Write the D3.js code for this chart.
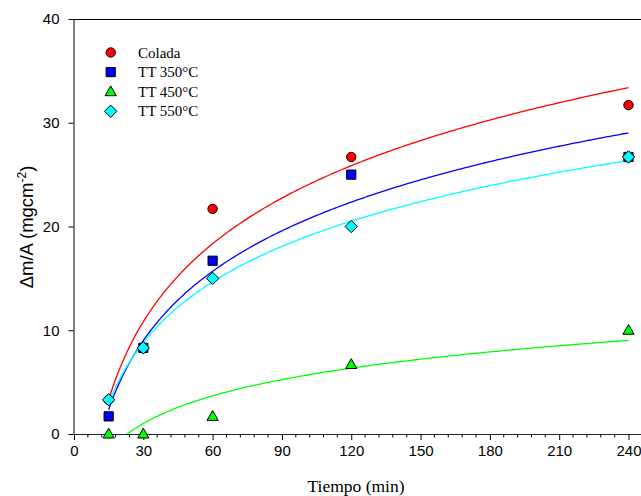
<!DOCTYPE html>
<html><head><meta charset="utf-8">
<script src="https://cdn.jsdelivr.net/npm/d3@7"></script>
<style>html,body{margin:0;padding:0;background:#fff;overflow:hidden}</style>
</head><body>
<script>
const times = [15, 30, 60, 120, 240];
const seriesNames = ["Colada", "TT 350°C", "TT 450°C", "TT 550°C"];
const colada = [3.3, 8.3, 21.7, 26.7, 31.7];
const tt350 = [1.7, 8.3, 16.7, 25.0, 26.7];
const tt450 = [0, 0, 1.7, 6.7, 10.0];
const tt550 = [3.3, 8.3, 15.0, 20.0, 26.7];
const xTicks = [0, 30, 60, 90, 120, 150, 180, 210, 240];
const yTicks = [0, 10, 20, 30, 40];

const colors = ["#ff0000", "#0000ff", "#00ff00", "#00ffff"];
const shapes = ["circle", "square", "triangle", "diamond"];
const allSeries = [colada, tt350, tt450, tt550];

const W = 641, H = 496;
const svg = d3.select("body").append("svg").attr("width", W).attr("height", H);
const x = d3.scaleLinear().domain([0, 250]).range([74, 651.6]);
const y = d3.scaleLinear().domain([0, 40]).range([434, 19]);

function shapePath(s) {
  if (s === "circle") return "M4.7,0A4.7,4.7 0 1,1 -4.7,0A4.7,4.7 0 1,1 4.7,0Z";
  if (s === "square") return "M-4.6,-4.6H4.6V4.6H-4.6Z";
  if (s === "triangle") return "M0,-5.8L5.6,4L-5.6,4Z";
  return "M0,-6.2L6.2,0L0,6.2L-6.2,0Z";
}

// clip
svg.append("clipPath").attr("id","clip").append("rect")
  .attr("x", 74).attr("y", 19).attr("width", 600).attr("height", 415);

// frame top line
svg.append("line").attr("x1", 73.5).attr("x2", 660).attr("y1", 19.5).attr("y2", 19.5)
  .attr("stroke", "#000").attr("stroke-width", 1.2);

// axes
const xAxis = d3.axisBottom(x).tickValues(xTicks).tickSize(6).tickSizeOuter(0).tickPadding(5);
const gx = svg.append("g").attr("transform", "translate(0,434)").call(xAxis);
const minor = d3.range(0, 250, 6).filter(v => v % 30 !== 0);
gx.selectAll(".minor").data(minor).enter().append("line").attr("class","minor")
  .attr("x1", d => x(d)).attr("x2", d => x(d)).attr("y1", 0).attr("y2", 3.5).attr("stroke", "#000");
gx.select(".domain").attr("stroke", "#222");
gx.selectAll("text").attr("font-family", "Liberation Sans, Arial, sans-serif").attr("font-size", "15px").attr("fill","#000");

const yAxis = d3.axisLeft(y).tickValues(yTicks).tickSize(5).tickSizeOuter(0).tickPadding(9);
const gy = svg.append("g").attr("transform", "translate(73.5,0)").call(yAxis);
gy.selectAll("text").attr("font-family", "Liberation Sans, Arial, sans-serif").attr("font-size", "15px").attr("fill","#000");
gy.select(".domain").attr("stroke","#000");

// fits (least-squares logarithmic regression of each series)
function logFit(vals) {
  const lx = times.map(Math.log);
  const mx = d3.mean(lx), my = d3.mean(vals);
  let sxy = 0, sxx = 0;
  lx.forEach((v, i) => { sxy += (v - mx) * (vals[i] - my); sxx += (v - mx) * (v - mx); });
  const b = sxy / sxx, a = my - b * mx;
  return t => a + b * Math.log(t);
}
const tGrid = d3.range(15, 240.01, 1);
const line = d3.line().x(d => x(d[0])).y(d => y(d[1]));
const curves = svg.append("g").attr("clip-path", "url(#clip)");
allSeries.forEach((vals, i) => {
  const f = logFit(vals);
  curves.append("path").attr("d", line(tGrid.map(t => [t, f(t)])))
    .attr("fill", "none").attr("stroke", colors[i]).attr("stroke-width", 1.3);
});

// markers
allSeries.forEach((vals, i) => {
  svg.append("g").selectAll("path").data(vals).enter().append("path")
    .attr("d", shapePath(shapes[i]))
    .attr("transform", (d, j) => `translate(${x(times[j])},${y(d)})`)
    .attr("fill", colors[i]).attr("stroke", "#000").attr("stroke-width", 1);
});

// legend
const leg = svg.append("g");
seriesNames.forEach((n, i) => {
  const ly = 52.5 + i * 19.6;
  leg.append("path").attr("d", shapePath(shapes[i])).attr("transform", `translate(110.7,${ly})`)
    .attr("fill", colors[i]).attr("stroke", "#000").attr("stroke-width", 1);
  leg.append("text").attr("x", 138).attr("y", ly + 5).text(n)
    .attr("font-family", "Liberation Serif, Times New Roman, serif").attr("font-size", "15px").attr("fill", "#000");
});

// axis titles
svg.append("text").attr("x", 356).attr("y", 492).attr("text-anchor", "middle")
  .attr("font-family", "Liberation Serif, Times New Roman, serif").attr("font-size", "17.5px").text("Tiempo (min)");
const yl = svg.append("text").attr("transform", "translate(33,227) rotate(-90)").attr("text-anchor", "middle")
  .attr("font-family", "Liberation Sans, Arial, sans-serif").attr("font-size", "18.5px");
yl.append("tspan").text("Δm/A (mgcm");
yl.append("tspan").attr("dy", "-7").attr("font-size", "12px").text("-2");
yl.append("tspan").attr("dy", "7").text(")");
</script>
</body></html>
